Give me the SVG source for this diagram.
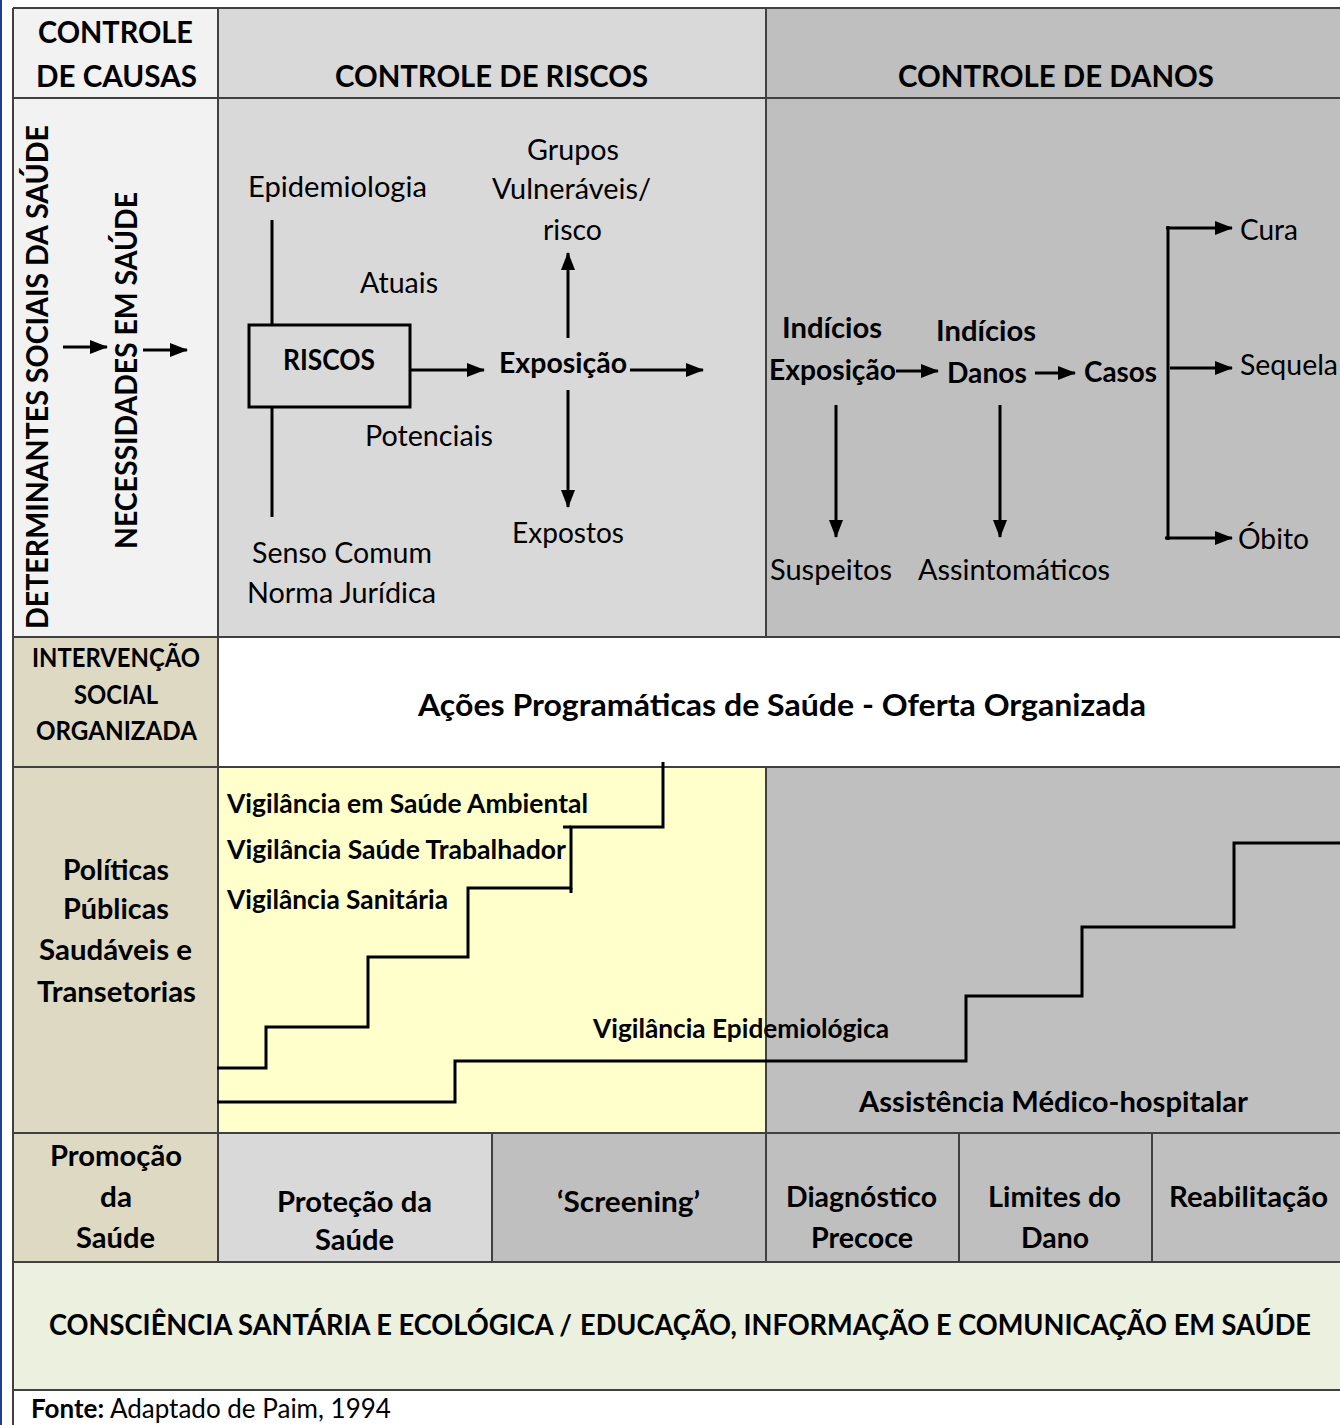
<svg xmlns="http://www.w3.org/2000/svg" width="1340" height="1425" viewBox="0 0 1340 1425">
<style>
text{font-family:Lato,"Liberation Sans",sans-serif;fill:#000;}
.b{font-weight:bold;}
.h{font-size:31px;font-weight:bold;}
.r{font-size:28px;}
.rb{font-size:28px;font-weight:bold;}
.s{font-size:26px;font-weight:bold;}
.grid{stroke:#404040;stroke-width:2;fill:none;}
.ln{stroke:#000;stroke-width:3;fill:none;}
.st{stroke:#000;stroke-width:3;fill:none;stroke-linejoin:miter;}
</style>
<defs>
<marker id="ah" viewBox="0 0 18 14" refX="17" refY="7" markerWidth="18" markerHeight="14" markerUnits="userSpaceOnUse" orient="auto">
<path d="M0,0 L18,7 L0,14 Z" fill="#000"/>
</marker>
</defs>
<rect x="0" y="0" width="1340" height="1425" fill="#fff"/>
<line x1="1" y1="0" x2="1" y2="1425" stroke="#1f3f96" stroke-width="2"/>

<g id="backgrounds">
<rect x="13" y="8" width="205" height="629" fill="#f2f2f2"/>
<rect x="218" y="8" width="548" height="629" fill="#d9d9d9"/>
<rect x="766" y="8" width="574" height="629" fill="#bfbfbf"/>
<rect x="13" y="637" width="205" height="625" fill="#ddd9c3"/>
<rect x="218" y="637" width="1122" height="130" fill="#fff"/>
<rect x="218" y="767" width="548" height="366" fill="#ffffcc"/>
<rect x="766" y="767" width="574" height="366" fill="#bfbfbf"/>
<rect x="218" y="1133" width="274" height="129" fill="#d9d9d9"/>
<rect x="492" y="1133" width="848" height="129" fill="#bfbfbf"/>
<rect x="13" y="1262" width="1327" height="128" fill="#ebf1de"/>
</g>

<g id="grid" class="grid">
<line x1="13" y1="8" x2="1340" y2="8"/>
<line x1="13" y1="98" x2="1340" y2="98"/>
<line x1="13" y1="637" x2="1340" y2="637"/>
<line x1="13" y1="767" x2="1340" y2="767"/>
<line x1="13" y1="1133" x2="1340" y2="1133"/>
<line x1="13" y1="1262" x2="1340" y2="1262"/>
<line x1="13" y1="1390" x2="1340" y2="1390"/>
<line x1="13" y1="8" x2="13" y2="1425"/>
<line x1="218" y1="8" x2="218" y2="1262"/>
<line x1="766" y1="8" x2="766" y2="637"/>
<line x1="766" y1="767" x2="766" y2="1262"/>
<line x1="492" y1="1133" x2="492" y2="1262"/>
<line x1="959" y1="1133" x2="959" y2="1262"/>
<line x1="1152" y1="1133" x2="1152" y2="1262"/>
</g>

<g id="header-causas">
<text class="h" x="38" y="43" textLength="155" lengthAdjust="spacingAndGlyphs">CONTROLE</text>
<text class="h" x="36" y="87" textLength="161" lengthAdjust="spacingAndGlyphs">DE CAUSAS</text>
</g>
<g id="header-riscos">
<text class="h" x="335" y="87" textLength="313" lengthAdjust="spacingAndGlyphs">CONTROLE DE RISCOS</text>
</g>
<g id="header-danos">
<text class="h" x="898" y="87" textLength="316" lengthAdjust="spacingAndGlyphs">CONTROLE DE DANOS</text>
</g>

<g id="determinantes">
<text class="h" font-size="30" transform="translate(48,629) rotate(-90)" x="0" y="0" textLength="504" lengthAdjust="spacingAndGlyphs">DETERMINANTES SOCIAIS DA SAÚDE</text>
</g>
<g id="necessidades">
<text class="h" font-size="30" transform="translate(137,549) rotate(-90)" x="0" y="0" textLength="357" lengthAdjust="spacingAndGlyphs">NECESSIDADES EM SAÚDE</text>
</g>

<g id="epidemiologia"><text class="r" x="248" y="197" textLength="179" lengthAdjust="spacingAndGlyphs">Epidemiologia</text></g>
<g id="atuais"><text class="r" x="360" y="293" textLength="78" lengthAdjust="spacingAndGlyphs">Atuais</text></g>
<g id="riscos">
<rect x="249" y="325" width="161" height="82" fill="none" stroke="#000" stroke-width="3"/>
<text class="rb" x="283" y="370" textLength="92" lengthAdjust="spacingAndGlyphs">RISCOS</text>
</g>
<g id="potenciais"><text class="r" x="365" y="446" textLength="128" lengthAdjust="spacingAndGlyphs">Potenciais</text></g>
<g id="senso"><text class="r" x="252" y="563" textLength="180" lengthAdjust="spacingAndGlyphs">Senso Comum</text>
<text class="r" x="247" y="603" textLength="189" lengthAdjust="spacingAndGlyphs">Norma Jurídica</text></g>
<g id="exposicao1"><text class="rb" x="499" y="373" textLength="128" lengthAdjust="spacingAndGlyphs">Exposição</text></g>
<g id="grupos">
<text class="r" x="527" y="160" textLength="92" lengthAdjust="spacingAndGlyphs">Grupos</text>
<text class="r" x="492" y="199" textLength="159" lengthAdjust="spacingAndGlyphs">Vulneráveis/</text>
<text class="r" x="543" y="240" textLength="59" lengthAdjust="spacingAndGlyphs">risco</text>
</g>
<g id="expostos"><text class="r" x="512" y="543" textLength="112" lengthAdjust="spacingAndGlyphs">Expostos</text></g>

<g id="indicios-exposicao">
<text class="rb" x="782" y="338" textLength="100" lengthAdjust="spacingAndGlyphs">Indícios</text>
<text class="rb" x="769" y="380" textLength="127" lengthAdjust="spacingAndGlyphs">Exposição</text>
</g>
<g id="indicios-danos">
<text class="rb" x="936" y="341" textLength="100" lengthAdjust="spacingAndGlyphs">Indícios</text>
<text class="rb" x="947" y="383" textLength="80" lengthAdjust="spacingAndGlyphs">Danos</text>
</g>
<g id="casos"><text class="rb" x="1084" y="382" textLength="73" lengthAdjust="spacingAndGlyphs">Casos</text></g>
<g id="cura"><text class="r" x="1240" y="240" textLength="58" lengthAdjust="spacingAndGlyphs">Cura</text></g>
<g id="sequela"><text class="r" x="1240" y="375" textLength="98" lengthAdjust="spacingAndGlyphs">Sequela</text></g>
<g id="obito"><text class="r" x="1238" y="549" textLength="71" lengthAdjust="spacingAndGlyphs">Óbito</text></g>
<g id="suspeitos"><text class="r" x="770" y="580" textLength="122" lengthAdjust="spacingAndGlyphs">Suspeitos</text></g>
<g id="assintomaticos"><text class="r" x="918" y="580" textLength="192" lengthAdjust="spacingAndGlyphs">Assintomáticos</text></g>

<g id="intervencao">
<text class="s" x="32" y="667" textLength="168" lengthAdjust="spacingAndGlyphs">INTERVENÇÃO</text>
<text class="s" x="74" y="704" textLength="84" lengthAdjust="spacingAndGlyphs">SOCIAL</text>
<text class="s" x="36" y="740" textLength="161" lengthAdjust="spacingAndGlyphs">ORGANIZADA</text>
</g>
<g id="acoes"><text class="h" font-size="30" x="418" y="716" textLength="728" lengthAdjust="spacingAndGlyphs">Ações Programáticas de Saúde - Oferta Organizada</text></g>

<g id="politicas">
<text class="rb" x="63" y="880" textLength="106" lengthAdjust="spacingAndGlyphs">Políticas</text>
<text class="rb" x="63" y="919" textLength="106" lengthAdjust="spacingAndGlyphs">Públicas</text>
<text class="rb" x="39" y="960" textLength="153" lengthAdjust="spacingAndGlyphs">Saudáveis e</text>
<text class="rb" x="37" y="1002" textLength="159" lengthAdjust="spacingAndGlyphs">Transetorias</text>
</g>
<g id="vig-ambiental"><text class="s" x="227" y="813" textLength="361" lengthAdjust="spacingAndGlyphs">Vigilância em Saúde Ambiental</text></g>
<g id="vig-trabalhador"><text class="s" x="227" y="859" textLength="339" lengthAdjust="spacingAndGlyphs">Vigilância Saúde Trabalhador</text></g>
<g id="vig-sanitaria"><text class="s" x="227" y="909" textLength="221" lengthAdjust="spacingAndGlyphs">Vigilância Sanitária</text></g>
<g id="vig-epidemiologica"><text class="s" x="593" y="1038" textLength="296" lengthAdjust="spacingAndGlyphs">Vigilância Epidemiológica</text></g>
<g id="assistencia"><text class="rb" x="859" y="1112" textLength="389" lengthAdjust="spacingAndGlyphs">Assistência Médico-hospitalar</text></g>

<g id="promocao">
<text class="rb" x="50" y="1166" textLength="132" lengthAdjust="spacingAndGlyphs">Promoção</text>
<text class="rb" x="100" y="1207" textLength="32" lengthAdjust="spacingAndGlyphs">da</text>
<text class="rb" x="76" y="1248" textLength="79" lengthAdjust="spacingAndGlyphs">Saúde</text>
</g>
<g id="protecao">
<text class="rb" x="277" y="1212" textLength="155" lengthAdjust="spacingAndGlyphs">Proteção da</text>
<text class="rb" x="315" y="1250" textLength="79" lengthAdjust="spacingAndGlyphs">Saúde</text>
</g>
<g id="screening"><text class="rb" x="557" y="1212" textLength="143" lengthAdjust="spacingAndGlyphs">‘Screening’</text></g>
<g id="diagnostico">
<text class="rb" x="786" y="1207" textLength="151" lengthAdjust="spacingAndGlyphs">Diagnóstico</text>
<text class="rb" x="811" y="1248" textLength="102" lengthAdjust="spacingAndGlyphs">Precoce</text>
</g>
<g id="limites">
<text class="rb" x="988" y="1207" textLength="133" lengthAdjust="spacingAndGlyphs">Limites do</text>
<text class="rb" x="1021" y="1248" textLength="68" lengthAdjust="spacingAndGlyphs">Dano</text>
</g>
<g id="reabilitacao"><text class="rb" x="1169" y="1207" textLength="159" lengthAdjust="spacingAndGlyphs">Reabilitação</text></g>

<g id="consciencia">
<text class="rb" font-size="26" x="49" y="1335" textLength="523" lengthAdjust="spacingAndGlyphs">CONSCIÊNCIA SANTÁRIA E ECOLÓGICA /</text>
<text class="rb" font-size="26" x="580" y="1335" textLength="731" lengthAdjust="spacingAndGlyphs">EDUCAÇÃO, INFORMAÇÃO E COMUNICAÇÃO EM SAÚDE</text>
</g>
<g id="fonte"><text font-size="26" x="31" y="1418"><tspan class="b">Fonte:</tspan> Adaptado de Paim, 1994</text></g>

<g id="connectors">
<line class="ln" x1="63" y1="347" x2="107" y2="347" marker-end="url(#ah)"/>
<line class="ln" x1="143" y1="350" x2="187" y2="350" marker-end="url(#ah)"/>
<line class="ln" x1="272" y1="220" x2="272" y2="325"/>
<line class="ln" x1="272" y1="407" x2="272" y2="517"/>
<line class="ln" x1="410" y1="370" x2="484" y2="370" marker-end="url(#ah)"/>
<line class="ln" x1="630" y1="370" x2="703" y2="370" marker-end="url(#ah)"/>
<line class="ln" x1="568" y1="338" x2="568" y2="253" marker-end="url(#ah)"/>
<line class="ln" x1="568" y1="390" x2="568" y2="507" marker-end="url(#ah)"/>
<line class="ln" x1="896" y1="371" x2="938" y2="371" marker-end="url(#ah)"/>
<line class="ln" x1="1035" y1="373" x2="1075" y2="373" marker-end="url(#ah)"/>
<line class="ln" x1="1168" y1="226" x2="1168" y2="540"/>
<line class="ln" x1="1166" y1="228" x2="1232" y2="228" marker-end="url(#ah)"/>
<line class="ln" x1="1170" y1="368" x2="1232" y2="368" marker-end="url(#ah)"/>
<line class="ln" x1="1165" y1="538" x2="1232" y2="538" marker-end="url(#ah)"/>
<line class="ln" x1="836" y1="405" x2="836" y2="537" marker-end="url(#ah)"/>
<line class="ln" x1="1000" y1="405" x2="1000" y2="537" marker-end="url(#ah)"/>
<polyline class="st" points="217,1068 266,1068 266,1027 368,1027 368,957 468,957 468,888 571,888 571,827 663,827 663,762"/>
<line class="ln" x1="563" y1="827" x2="571" y2="827"/>
<line class="ln" x1="571" y1="888" x2="571" y2="893"/>
<polyline class="st" points="217,1102 455,1102 455,1061 966,1061 966,996 1082,996 1082,927 1234,927 1234,843 1340,843"/>
</g>
</svg>
